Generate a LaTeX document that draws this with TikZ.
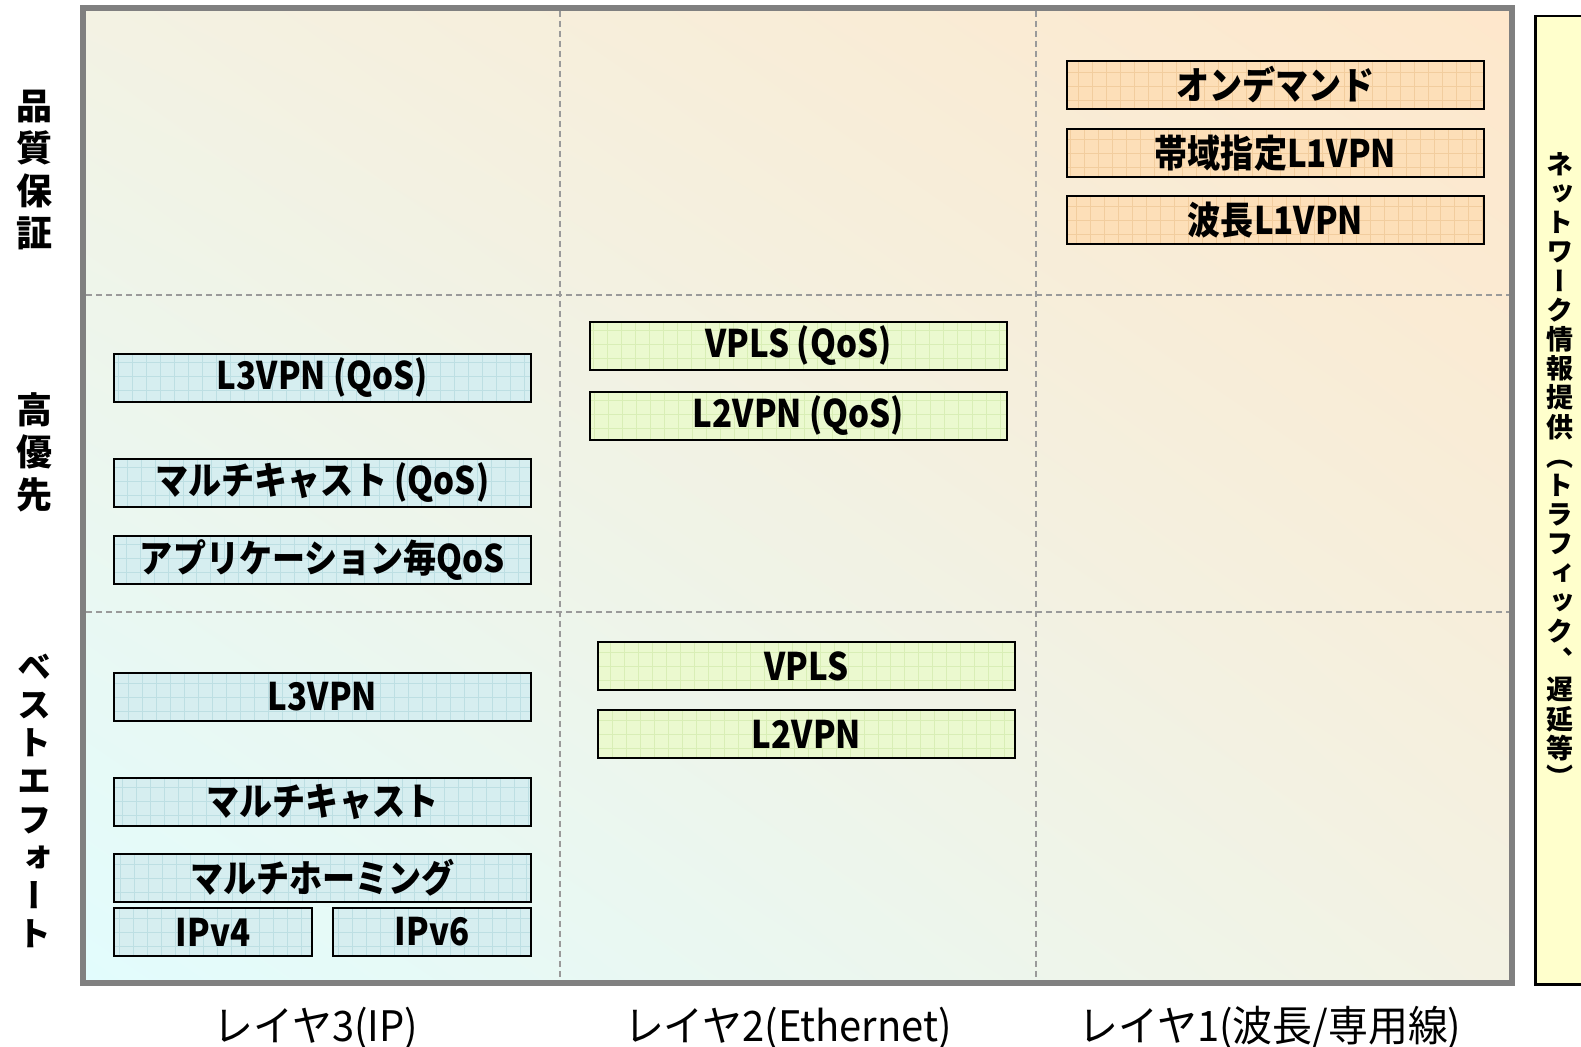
\documentclass[tikz,border=0pt]{standalone}
\usepackage{fontspec}
\usetikzlibrary{shadings}
\setmainfont{Noto Sans CJK JP}
\newfontfamily\jpbox[FakeStretch=0.87]{Noto Sans CJK JP}
\newfontfamily\jpv[RawFeature=+vert]{Noto Sans CJK JP}
\newfontfamily\jpreg[FakeStretch=0.95]{Noto Sans CJK JP}
\definecolor{bgBL}{HTML}{E2FCFD}
\definecolor{bgMid}{HTML}{F3F2E3}
\definecolor{bgTR}{HTML}{FEE7CB}
\definecolor{frameGray}{HTML}{808080}
\definecolor{dashGray}{HTML}{9A9A9A}
\definecolor{boxBlue}{HTML}{D6EEF0}
\definecolor{gridBlue}{HTML}{BDDFE3}
\definecolor{boxGreen}{HTML}{EBF9CF}
\definecolor{gridGreen}{HTML}{D9EEB6}
\definecolor{boxOrange}{HTML}{FDDFB8}
\definecolor{gridOrange}{HTML}{F2CD9E}
\definecolor{infoYellow}{HTML}{FFFFCC}
\begin{document}
\begin{tikzpicture}[x=0.5pt,y=-0.5pt,
  svc/.style={draw=black, line width=1pt, anchor=north west, inner sep=0pt,
    minimum height=24pt, minimum width=208.5pt,
    font=\jpbox\bfseries\fontsize{19}{21}\selectfont},
  gridded/.style={path picture={\draw[#1, line width=0.35pt]
    (path picture bounding box.south west) grid[step=7pt] (path picture bounding box.north east);}},
  l3box/.style={svc, fill=boxBlue, gridded=gridBlue},
  l2box/.style={svc, fill=boxGreen, gridded=gridGreen},
  l1box/.style={svc, fill=boxOrange, gridded=gridOrange},
  sidelbl/.style={align=center, inner sep=0pt, font=\jpv\bfseries\fontsize{18}{21.3}\selectfont},
  axislbl/.style={inner sep=0pt, font=\jpreg\fontsize{21}{24}\selectfont},
  divider/.style={dashGray, line width=0.75pt, dash pattern=on 3pt off 2pt}]
\useasboundingbox (0,0) rectangle (1581,1047);
\clip (0,0) rectangle (1581,1047);

% background panel
\shade[lower left=bgBL, upper right=bgTR, lower right=bgMid, upper left=bgMid] (83,8) rectangle (1512,983);

% dividers
\coordinate (v1t) at (560,11); \coordinate (v1b) at (560,980);
\coordinate (v2t) at (1036,11); \coordinate (v2b) at (1036,980);
\coordinate (h1l) at (86,295); \coordinate (h1r) at (1509,295);
\coordinate (h2l) at (86,612); \coordinate (h2r) at (1509,612);
\draw[divider] (v1t) -- (v1b);
\draw[divider] (v2t) -- (v2b);
\draw[divider] (h1l) -- (h1r);
\draw[divider] (h2l) -- (h2r);

\draw[frameGray, line width=3pt] (83,8) rectangle (1512,983);

% layer 1
\node[l1box] (od) at (1066,60) {オンデマンド};
\node[l1box] (bw) at (1066,128) {帯域指定L1VPN};
\node[l1box] (wl) at (1066,195) {波長L1VPN};

% layer 2
\node[l2box] (vplsq) at (589,321) {VPLS (QoS)};
\node[l2box] (l2q) at (589,391) {L2VPN (QoS)};
\node[l2box] (vpls) at (597,641) {VPLS};
\node[l2box] (l2) at (597,709) {L2VPN};

% layer 3
\node[l3box] (l3q) at (113,353) {L3VPN (QoS)};
\node[l3box] (mcq) at (113,458) {マルチキャスト (QoS)};
\node[l3box] (app) at (113,535) {アプリケーション毎QoS};
\node[l3box] (l3) at (113,672) {L3VPN};
\node[l3box] (mc) at (113,777) {マルチキャスト};
\node[l3box] (mh) at (113,853) {マルチホーミング};
\node[l3box, minimum width=99pt] (v4) at (113,907) {IPv4};
\node[l3box, minimum width=99pt] (v6) at (332,907) {IPv6};

% side labels
\node[sidelbl] (qa) at (35,170) {品\\質\\保\\証};
\node[sidelbl] (hp) at (35,452) {高\\優\\先};
\node[sidelbl, font=\jpv\bfseries\fontsize{17}{19.1}\selectfont] (be) at (35,801) {ベ\\ス\\ト\\エ\\フ\\ォ\\ー\\ト};

% info panel
\node[draw=black, line width=1.25pt, fill=infoYellow, anchor=north west, inner sep=0pt,
  minimum width=40pt, minimum height=484pt] (info) at (1534,15) {};
\node[sidelbl, font=\jpv\bfseries\fontsize{13.5}{14.6}\selectfont] (infot) at (1560,470)
  {ネ\\ッ\\ト\\ワ\\ー\\ク\\情\\報\\提\\供\\（\\ト\\ラ\\フ\\ィ\\ッ\\ク\\、\\遅\\延\\等\\）};

% axis labels
\node[axislbl] (ax3) at (316,1028) {レイヤ3(IP)};
\node[axislbl] (ax2) at (788,1028) {レイヤ2(Ethernet)};
\node[axislbl] (ax1) at (1270,1028) {レイヤ1(波長/専用線)};
\end{tikzpicture}
\end{document}
